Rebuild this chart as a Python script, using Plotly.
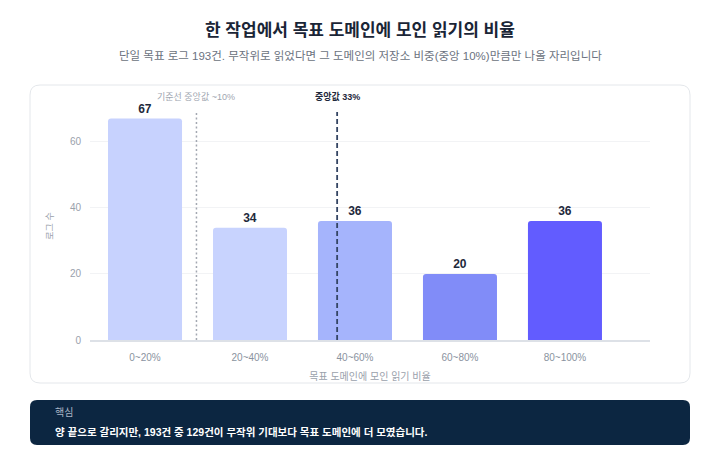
import plotly.graph_objects as go

# bins of "share of reads in target domain" and log counts per bin
bins = ["0~20%", "20~40%", "40~60%", "60~80%", "80~100%"]
counts = [67, 34, 36, 20, 36]
bar_colors = ["#c7d2fe", "#c8d3fe", "#a5b4fc", "#818cf8", "#625cff"]

# reference lines (position on the bin axis)
ref_labels = ["기준선 중앙값 ~10%", "중앙값 33%"]
ref_pos = [0.49, 1.83]

yticks = [0, 20, 40, 60]

title = "한 작업에서 목표 도메인에 모인 읽기의 비율"
subtitle = "단일 목표 로그 193건. 무작위로 읽었다면 그 도메인의 저장소 비중(중앙 10%)만큼만 나올 자리입니다"
note_head = "핵심"
note_body = "양 끝으로 갈리지만, 193건 중 129건이 무작위 기대보다 목표 도메인에 더 모였습니다."

font = "Helvetica, Arial, 'Liberation Sans', 'Noto Sans CJK KR', sans-serif"

# page body has an 8px margin, so the figure is a bit smaller than the window
W, H = 704, 444
OFF = 8
PL, PR, PT, PB = 90, 650, 112, 340   # plot area in window pixels


def px_x(px):
    return (px - PL) / (PR - PL)


def px_y(py):
    return (PB - py) / (PB - PT)


def rounded_box(x0, y0, x1, y1, r):
    # rounded rectangle path in paper coords, from window pixels
    pts = []
    X = lambda v: px_x(v)
    Y = lambda v: px_y(v)
    pts.append(f"M {X(x0 + r)},{Y(y0)}")
    pts.append(f"L {X(x1 - r)},{Y(y0)}")
    pts.append(f"Q {X(x1)},{Y(y0)} {X(x1)},{Y(y0 + r)}")
    pts.append(f"L {X(x1)},{Y(y1 - r)}")
    pts.append(f"Q {X(x1)},{Y(y1)} {X(x1 - r)},{Y(y1)}")
    pts.append(f"L {X(x0 + r)},{Y(y1)}")
    pts.append(f"Q {X(x0)},{Y(y1)} {X(x0)},{Y(y1 - r)}")
    pts.append(f"L {X(x0)},{Y(y0 + r)}")
    pts.append(f"Q {X(x0)},{Y(y0)} {X(x0 + r)},{Y(y0)} Z")
    return " ".join(pts)


fig = go.Figure()
fig.add_trace(go.Bar(
    x=list(range(len(bins))),
    y=counts,
    marker=dict(color=bar_colors, line=dict(width=0)),
    text=counts,
    textposition="outside",
    textfont=dict(size=12, color="#1e293b", family=font, weight="bold"),
    cliponaxis=False,
    hoverinfo="skip",
))

# card behind the chart
fig.add_shape(type="path", xref="paper", yref="paper",
              path=rounded_box(30, 85, 690, 383, 10),
              line=dict(color="#e4e7eb", width=1), fillcolor="white",
              layer="below")
# dark note box
fig.add_shape(type="path", xref="paper", yref="paper",
              path=rounded_box(30, 400, 690, 445, 7),
              line=dict(width=0), fillcolor="#0c2641", layer="below")

styles = [dict(color="#a3a8b1", dash="2px,2.5px", width=1.5),
          dict(color="#344563", dash="5px,3px", width=1.8)]
lab_fonts = [dict(size=9, color="#a0a6b0", family=font),
             dict(size=9, color="#1e293b", family=font, weight="bold")]
for pos, lab, st, lf in zip(ref_pos, ref_labels, styles, lab_fonts):
    fig.add_shape(type="line", xref="x", yref="paper", x0=pos, x1=pos,
                  y0=0, y1=1, line=st)
    fig.add_annotation(x=pos, y=px_y(97), xref="x", yref="paper", text=lab,
                       showarrow=False, yanchor="middle", font=lf)

fig.add_annotation(x=px_x(360), y=px_y(31), xref="paper", yref="paper",
                   text="<b>" + title + "</b>", showarrow=False,
                   yanchor="middle",
                   font=dict(size=17, color="#1a2536", family=font))
fig.add_annotation(x=px_x(360), y=px_y(55), xref="paper", yref="paper",
                   text=subtitle, showarrow=False, yanchor="middle",
                   font=dict(size=11.5, color="#6b7280", family=font))
fig.add_annotation(x=px_x(53), y=px_y(412), xref="paper", yref="paper",
                   text=note_head, showarrow=False, xanchor="left",
                   yanchor="middle",
                   font=dict(size=10, color="#aab6c6", family=font))
fig.add_annotation(x=px_x(53), y=px_y(432), xref="paper", yref="paper",
                   text="<b>" + note_body + "</b>", showarrow=False,
                   xanchor="left", yanchor="middle",
                   font=dict(size=10.5, color="white", family=font))

fig.update_layout(
    width=W, height=H,
    margin=dict(l=PL - OFF, r=W - (PR - OFF), t=PT - OFF, b=H - (PB - OFF)),
    paper_bgcolor="white", plot_bgcolor="white",
    showlegend=False,
    bargap=0.295,
    barcornerradius=3,
    font=dict(family=font),
    xaxis=dict(
        tickmode="array", tickvals=list(range(len(bins))), ticktext=bins,
        range=[-0.524, 4.81],
        showgrid=False, zeroline=False,
        showline=True, linecolor="#dde1e7", linewidth=1.5,
        ticks="", ticklabelstandoff=7,
        tickfont=dict(size=10, color="#8a93a0"),
        title=dict(text="목표 도메인에 모인 읽기 비율",
                   font=dict(size=10, color="#9aa1ab"), standoff=11),
    ),
    yaxis=dict(
        range=[0, 69], tickvals=yticks,
        showgrid=True, gridcolor="#f2f3f5", gridwidth=1,
        zeroline=False, showline=False, ticks="",
        ticklabelstandoff=8,
        tickfont=dict(size=10, color="#9aa1ab"),
        title=dict(text="로그 수", font=dict(size=9, color="#9aa1ab"),
                   standoff=14),
    ),
)

fig.write_html("out.html")
